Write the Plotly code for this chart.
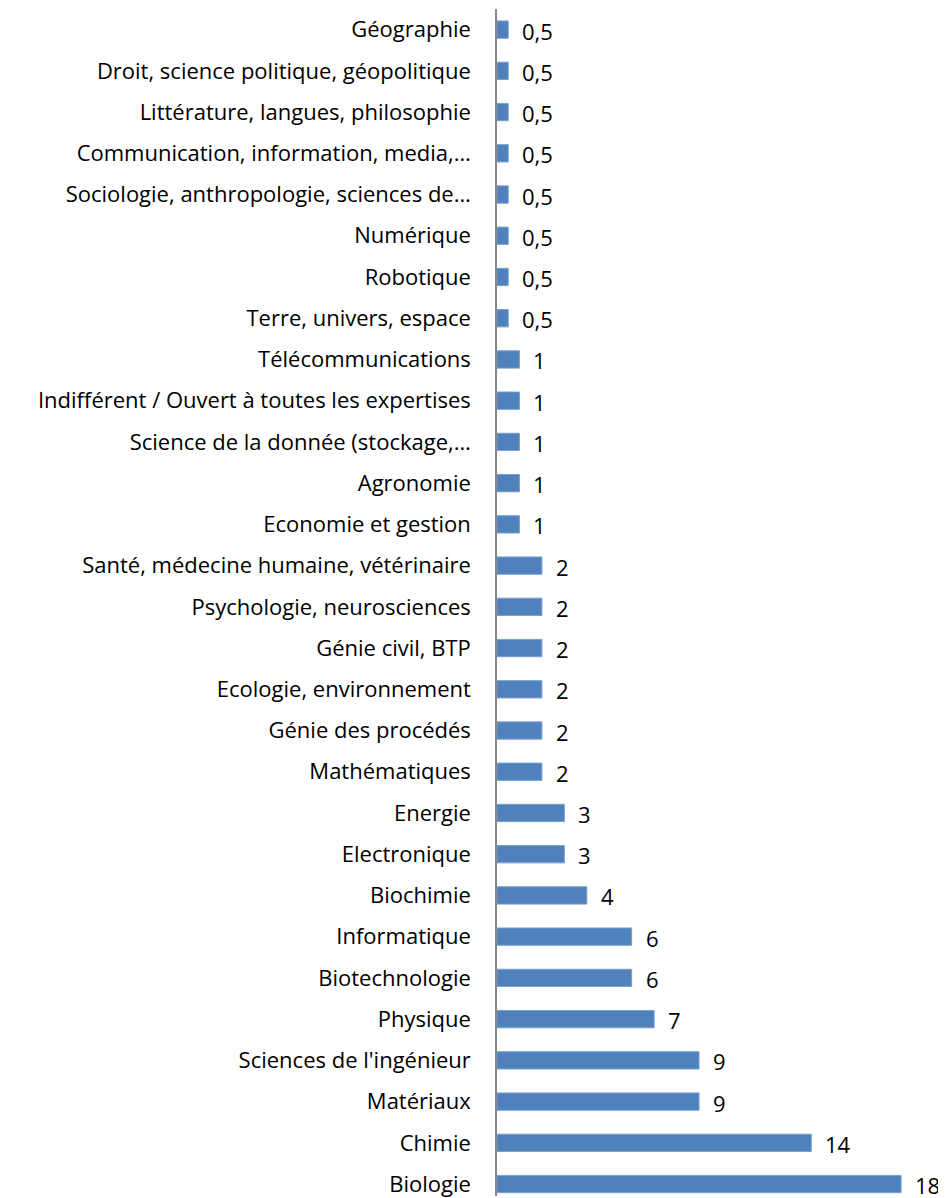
import plotly.graph_objects as go

categories = [
    "Géographie",
    "Droit, science politique, géopolitique",
    "Littérature, langues, philosophie",
    "Communication, information, media,…",
    "Sociologie, anthropologie, sciences de…",
    "Numérique",
    "Robotique",
    "Terre, univers, espace",
    "Télécommunications",
    "Indifférent / Ouvert à toutes les expertises",
    "Science de la donnée (stockage,…",
    "Agronomie",
    "Economie et gestion",
    "Santé, médecine humaine, vétérinaire",
    "Psychologie, neurosciences",
    "Génie civil, BTP",
    "Ecologie, environnement",
    "Génie des procédés",
    "Mathématiques",
    "Energie",
    "Electronique",
    "Biochimie",
    "Informatique",
    "Biotechnologie",
    "Physique",
    "Sciences de l'ingénieur",
    "Matériaux",
    "Chimie",
    "Biologie",
]
values = [0.5, 0.5, 0.5, 0.5, 0.5, 0.5, 0.5, 0.5,
          1, 1, 1, 1, 1,
          2, 2, 2, 2, 2, 2,
          3, 3, 4, 6, 6, 7, 9, 9, 14, 18]
value_labels = [("%g" % v).replace(".", ",") for v in values]

FONT = "'Open Sans', Calibri, sans-serif"

fig = go.Figure()
fig.add_trace(go.Bar(
    x=values, y=categories, orientation="h",
    marker=dict(color="#4F81BD", line=dict(color="#7BA0D0", width=1)),
    width=0.42,
    hoverinfo="skip",
))
for c, v, t in zip(categories, values, value_labels):
    fig.add_annotation(x=v, y=c, text=t, showarrow=False, xanchor="left",
                       xshift=12, yshift=-1, font=dict(size=22, color="#000000", family=FONT))

# page body has an 8px margin: figure origin sits at (8, 8) in the window
fig.update_layout(
    width=938, height=1190,
    margin=dict(l=489, r=0, t=1, b=0),
    paper_bgcolor="white", plot_bgcolor="white",
    showlegend=False,
    font=dict(family=FONT, size=22, color="#000000"),
    xaxis=dict(range=[0, 20], visible=False, showgrid=False, zeroline=False),
    yaxis=dict(
        type="category", categoryorder="array", categoryarray=categories,
        range=[28.29, -0.5],
        showline=True, linecolor="#868686", linewidth=1.5,
        ticks="", showgrid=False, zeroline=False,
        ticklabelstandoff=20,
        tickfont=dict(size=22, color="#000000", family=FONT),
    ),
)
fig.write_html("out.html")
